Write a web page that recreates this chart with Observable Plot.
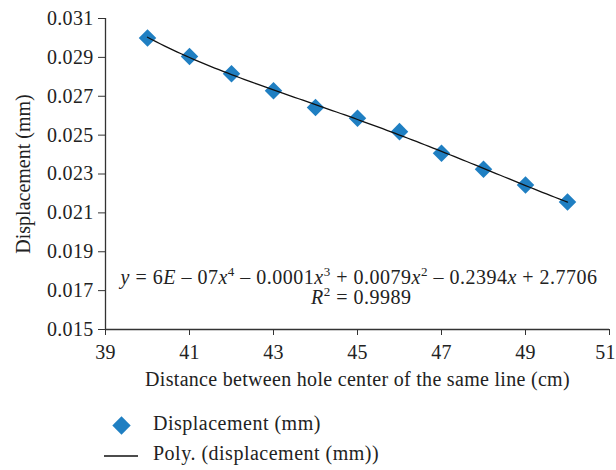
<!DOCTYPE html>
<html>
<head>
<meta charset="utf-8">
<script src="https://cdn.jsdelivr.net/npm/d3@7"></script>
<script src="https://cdn.jsdelivr.net/npm/@observablehq/plot@0.6"></script>
<style>
  body { margin: 0; background: #fff; }
  #wrap { position: relative; width: 616px; height: 470px; font-family: "Liberation Serif", "DejaVu Serif", serif; color: #222; }
  .leg { position: absolute; font-size: 20px; letter-spacing: 0.5px; color: #222; white-space: nowrap; }
</style>
</head>
<body>
<div id="wrap"></div>
<script>
const distances = [40, 41, 42, 43, 44, 45, 46, 47, 48, 49, 50];
const displacement = [0.0300, 0.02905, 0.02816, 0.02728, 0.02642, 0.02587, 0.02518, 0.02407, 0.02324, 0.02243, 0.02156];
const xTicks = [39, 41, 43, 45, 47, 49, 51];
const yTicks = [0.015, 0.017, 0.019, 0.021, 0.023, 0.025, 0.027, 0.029, 0.031];
const xLabel = "Distance between hole center of the same line (cm)";
const yLabel = "Displacement (mm)";
const legendPoints = "Displacement (mm)";
const legendLine = "Poly. (displacement (mm))";

const data = distances.map((d, i) => ({x: d, y: displacement[i]}));

// Quartic least-squares trendline (as Excel's polynomial trendline), fitted to the data above
function polyfit(xs, ys, deg, c) {
  const n = deg + 1;
  const A = Array.from({length: n}, () => new Array(n + 1).fill(0));
  xs.forEach((x0, k) => {
    const x = x0 - c;
    for (let i = 0; i < n; i++) {
      for (let j = 0; j < n; j++) A[i][j] += Math.pow(x, i + j);
      A[i][n] += ys[k] * Math.pow(x, i);
    }
  });
  for (let i = 0; i < n; i++) {
    let p = i;
    for (let r = i + 1; r < n; r++) if (Math.abs(A[r][i]) > Math.abs(A[p][i])) p = r;
    [A[i], A[p]] = [A[p], A[i]];
    for (let r = 0; r < n; r++) {
      if (r === i) continue;
      const f = A[r][i] / A[i][i];
      for (let j = i; j <= n; j++) A[r][j] -= f * A[i][j];
    }
  }
  const coef = A.map((row, i) => row[n] / row[i]);
  return x => coef.reduce((s, a, i) => s + a * Math.pow(x - c, i), 0);
}
const fit = polyfit(distances, displacement, 4, 45);
const trend = d3.range(40, 50.001, 0.1).map(x => ({x, y: fit(x)}));

const plot = Plot.plot({
  width: 616,
  height: 400,
  marginLeft: 105,
  marginRight: 7,
  marginTop: 18,
  marginBottom: 71,
  style: {fontFamily: "Liberation Serif, DejaVu Serif, serif", fontSize: "20px", color: "#222", background: "#fff", letterSpacing: "0.3px", overflow: "visible"},
  x: {domain: [39, 51]},
  y: {domain: [0.015, 0.031]},
  marks: [
    Plot.axisX({ticks: xTicks, tickSize: 6, tickPadding: 9, stroke: "#333", label: xLabel, labelAnchor: "center", labelArrow: "none", labelOffset: 56, fontSize: 20}),
    Plot.axisY({ticks: yTicks, tickSize: 7, tickPadding: 5, tickFormat: d3.format(".3f"), stroke: "#333", label: yLabel, labelAnchor: "center", labelArrow: "none", labelOffset: 90, fontSize: 20}),
    Plot.ruleX([39], {stroke: "#333", strokeWidth: 1.3}),
    Plot.ruleY([0.015], {stroke: "#333", strokeWidth: 1.3}),
    Plot.dot(data, {x: "x", y: "y", symbol: "square", rotate: 45, r: 7, fill: "#1f7fc2", stroke: "none"}),
    Plot.line(trend, {x: "x", y: "y", stroke: "#111", strokeWidth: 1.3})
  ]
});

const wrap = document.getElementById("wrap");
wrap.appendChild(plot);

const svg = d3.select(plot);
// keep the last x tick label ("51") inside the window
svg.selectAll("text").filter(function() { return this.textContent === "51"; }).attr("dx", -4);
svg.selectAll("text").filter(function() { return this.textContent === yLabel; }).attr("letter-spacing", "0px");

// Equation annotation
const sx = plot.scale("x"), sy = plot.scale("y");
const ann = svg.append("g").attr("font-family", "Liberation Serif, DejaVu Serif, serif").attr("font-size", 20).attr("letter-spacing", "0.5px").attr("fill", "#222").attr("text-anchor", "middle");
const t1 = ann.append("text").attr("x", sx.apply(45.05)).attr("y", sy.apply(0.01732));
const parts1 = [["y", "i"], [" = 6", ""], ["E", "i"], [" \u2013 07", ""], ["x", "i"], ["4", "s"], [" \u2013 0.0001", ""], ["x", "i"], ["3", "s"], [" + 0.0079", ""], ["x", "i"], ["2", "s"], [" \u2013 0.2394", ""], ["x", "i"], [" + 2.7706", ""]];
let prevSup = false;
parts1.forEach(([s, k]) => {
  const ts = t1.append("tspan").text(s);
  if (k === "i") ts.attr("font-style", "italic");
  if (k === "s") { ts.attr("font-size", 13).attr("dy", -8); prevSup = true; }
  else if (prevSup) { ts.attr("dy", 8); prevSup = false; }
});
const t2 = ann.append("text").attr("x", sx.apply(45.1)).attr("y", sy.apply(0.01629));
t2.append("tspan").attr("font-style", "italic").text("R");
t2.append("tspan").attr("font-size", 13).attr("dy", -8).text("2");
t2.append("tspan").attr("dy", 8).text(" = 0.9989");

// Legend
const leg = document.createElement("div");
leg.innerHTML = `
  <svg style="position:absolute;left:0;top:0" width="616" height="470">
    <rect x="115" y="419" width="13" height="13" fill="#1f7fc2" transform="rotate(45 121.5 425.5)"></rect>
    <line x1="104" x2="138" y1="456" y2="456" stroke="#111" stroke-width="1.3"></line>
  </svg>
  <div class="leg" style="left:153px;top:412px">${legendPoints}</div>
  <div class="leg" style="left:153px;top:442px">${legendLine}</div>`;
leg.style.position = "absolute"; leg.style.left = "0"; leg.style.top = "0";
wrap.appendChild(leg);
</script>
</body>
</html>
